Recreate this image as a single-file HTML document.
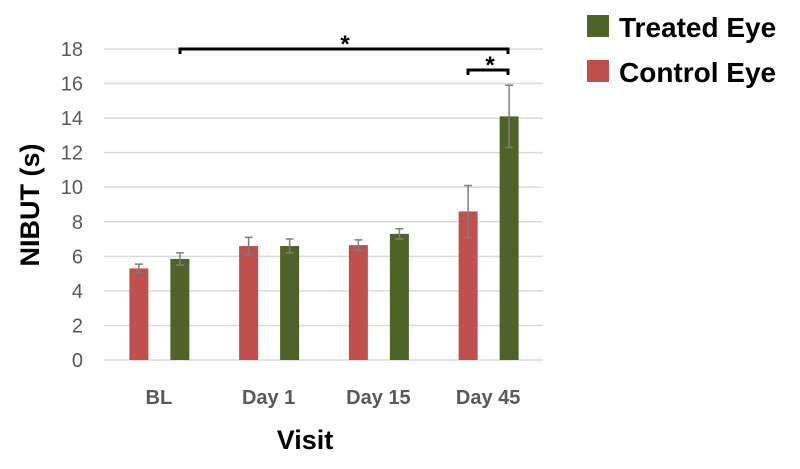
<!DOCTYPE html>
<html><head><meta charset="utf-8"><style>
body{margin:0;background:#fff;width:800px;height:464px;overflow:hidden;font-family:"Liberation Sans",sans-serif}
</style></head><body>
<svg width="800" height="464">
<g id="grid"></g>
<g id="bars"></g>
<g stroke="#000" stroke-width="3" fill="none">
<path d="M180,54 V49 H508 V54"/>
<path d="M468,75 V70 H508 V75"/>
</g>
<text x="345" y="52" font-size="24" font-weight="bold" text-anchor="middle">*</text>
<text x="490" y="73" font-size="24" font-weight="bold" text-anchor="middle">*</text>
<text transform="translate(39,205) rotate(-90)" font-size="27" font-weight="bold" text-anchor="middle">NIBUT (s)</text>
<text x="305" y="449" font-size="27" font-weight="bold" text-anchor="middle">Visit</text>
<g>
<rect x="587" y="15" width="22" height="22" fill="#4f6228"/>
<text x="619" y="37" font-size="28" font-weight="bold">Treated Eye</text>
<rect x="587" y="60" width="22" height="22" fill="#c0504d"/>
<text x="619" y="82" font-size="28" font-weight="bold">Control Eye</text>
</g>
</svg>
<script>
const categories=["BL","Day 1","Day 15","Day 45"];
const controlValues=[5.3,6.6,6.65,8.6];
const controlErrors=[0.25,0.5,0.3,1.5];
const treatedValues=[5.85,6.6,7.3,14.1];
const treatedErrors=[0.35,0.4,0.3,1.8];
const yTicks=[0,2,4,6,8,10,12,14,16,18];
const NS="http://www.w3.org/2000/svg";
const x0=104,x1=543,y0=360,yTop=49,yMax=18;
const yS=v=>y0-(v/yMax)*(y0-yTop);
const band=(x1-x0)/categories.length;
const xC=i=>x0+band*(i+0.5);
const grid=document.getElementById('grid'),bars=document.getElementById('bars');
function mk(t,a,p){const e=document.createElementNS(NS,t);for(const k in a)e.setAttribute(k,a[k]);p.appendChild(e);return e;}
yTicks.forEach(v=>{
 const l=mk('line',{x1:x0,x2:x1,y1:yS(v),y2:yS(v),stroke:'#d9d9d9','stroke-width':1.5},grid);
 
 
 const t=mk('text',{x:83,y:yS(v)+7,'font-size':20,fill:'#595959','text-anchor':'end'},grid);
 t.textContent=v;
 
 
});
function bar(i,v,err,off,col,nm){
 const cx=xC(i)+off,w=19;
 const r=mk('rect',{x:cx-w/2,y:yS(v),width:w,height:y0-yS(v),fill:col},bars);
 
 
 const g=mk('path',{d:`M${cx},${yS(v-err)}V${yS(v+err)}M${cx-4},${yS(v+err)}H${cx+4}M${cx-4},${yS(v-err)}H${cx+4}`,stroke:'#7f7f7f','stroke-width':1.5,fill:'none'},bars);
 
 
}
categories.forEach((c,i)=>{
 bar(i,controlValues[i],controlErrors[i],-20,'#c0504d','control');
 bar(i,treatedValues[i],treatedErrors[i],21,'#4f6228','treated');
 const t=mk('text',{x:xC(i),y:404,'font-size':20,'font-weight':'bold',fill:'#595959','text-anchor':'middle'},bars);
 t.textContent=c;
 
 
});
</script>
</body></html>
